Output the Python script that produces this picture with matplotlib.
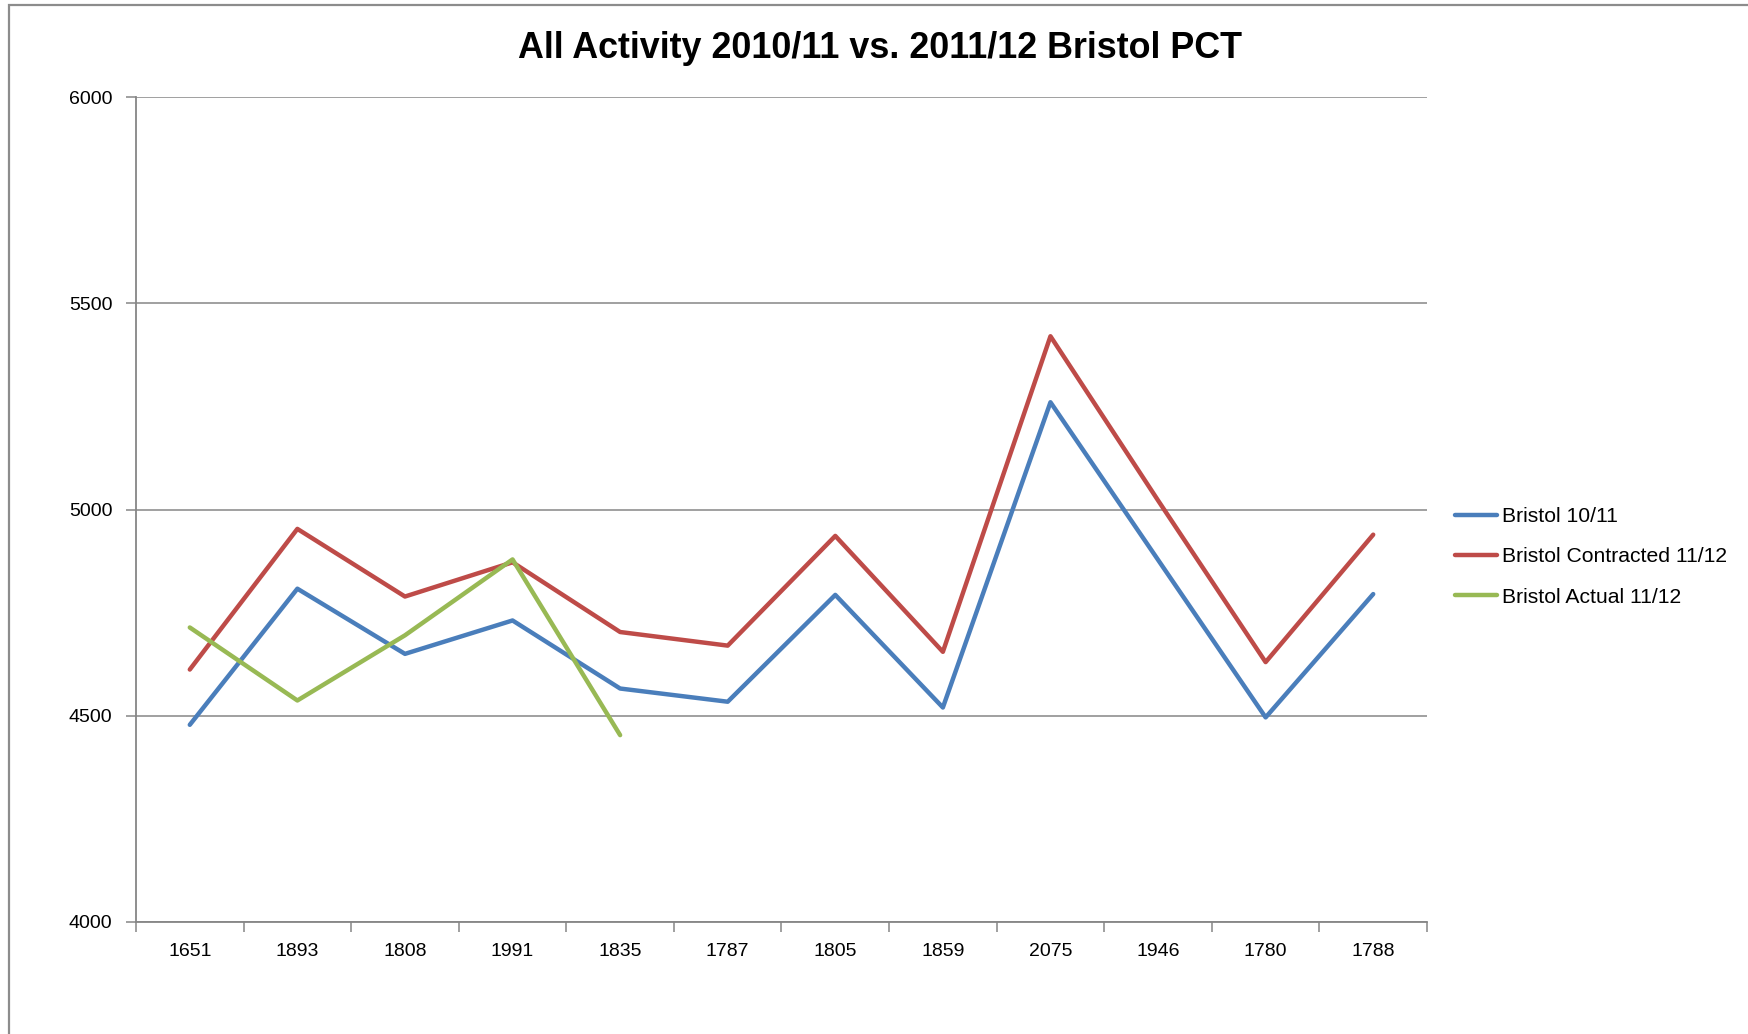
import matplotlib
matplotlib.use("Agg")
import matplotlib.pyplot as plt
from matplotlib.patches import Rectangle
import numpy as np

plt.rcParams['font.family'] = ['Liberation Sans', 'DejaVu Sans']

categories = ['1651', '1893', '1808', '1991', '1835', '1787', '1805', '1859', '2075', '1946', '1780', '1788']
bristol_1011 = [4478, 4808, 4650, 4731, 4566, 4534, 4793, 4520, 5260, 4878, 4496, 4795]
bristol_contracted = [4612, 4953, 4789, 4872, 4703, 4670, 4936, 4655, 5420, 5022, 4630, 4939]
bristol_actual = [4714, 4537, 4695, 4879, 4453]
y_ticks = [4000, 4500, 5000, 5500, 6000]

W, H = 1749, 1034
fig = plt.figure(figsize=(W / 100, H / 100), dpi=100)
fig.patch.set_facecolor('white')

# outer chart border (only top and left visible)
fig.add_artist(Rectangle((9 / W, -0.1), 1.2, 1 - 5 / H + 0.1, transform=fig.transFigure,
                         fill=False, edgecolor='#8c8c8c', linewidth=1.6))

ax = fig.add_axes([136 / W, 1 - 922 / H, (1427 - 136) / W, (922 - 97) / H])

x = np.arange(len(categories))
grey = '#868686'
lw = 3.2
ax.plot(x, bristol_1011, color='#4A7EBB', lw=lw, label='Bristol 10/11',
        solid_capstyle='round', solid_joinstyle='round', zorder=3)
ax.plot(x, bristol_contracted, color='#BE4B48', lw=lw, label='Bristol Contracted 11/12',
        solid_capstyle='round', solid_joinstyle='round', zorder=3)
ax.plot(np.arange(len(bristol_actual)), bristol_actual, color='#98B954', lw=lw,
        label='Bristol Actual 11/12', solid_capstyle='round', solid_joinstyle='round', zorder=4)

ax.set_xlim(-0.5, len(categories) - 0.5)
ax.set_ylim(4000, 6000)
ax.set_yticks(y_ticks)
ax.set_yticklabels([str(v) for v in y_ticks])
ax.yaxis.grid(True, color=grey, lw=1.1)
ax.set_axisbelow(True)

ax.set_xticks(np.arange(-0.5, len(categories)), minor=False)
ax.set_xticklabels([])
ax.set_xticks(x, minor=True)
ax.set_xticklabels(categories, minor=True)
ax.tick_params(axis='x', which='major', length=7, width=1.1, color=grey, direction='out')
ax.tick_params(axis='x', which='minor', length=0, pad=15, labelsize=14)
ax.tick_params(axis='y', length=7, width=1.1, color=grey, direction='out', pad=10, labelsize=14)

for s in ['top', 'right']:
    ax.spines[s].set_visible(False)
for s in ['left', 'bottom']:
    ax.spines[s].set_color(grey)
    ax.spines[s].set_linewidth(1.3)

fig.text(880 / W, 1 - 49 / H, 'All Activity 2010/11 vs. 2011/12 Bristol PCT',
         ha='center', va='center', fontsize=25.8, fontweight='bold')

fig.legend(loc='center left', bbox_to_anchor=(1455 / W, 1 - 557 / H),
           bbox_transform=fig.transFigure, frameon=False, fontsize=15.2,
           handlelength=2.0, handletextpad=0.25, labelspacing=1.0, borderpad=0,
           borderaxespad=0)

fig.savefig('out.png', dpi=100, facecolor='white')
